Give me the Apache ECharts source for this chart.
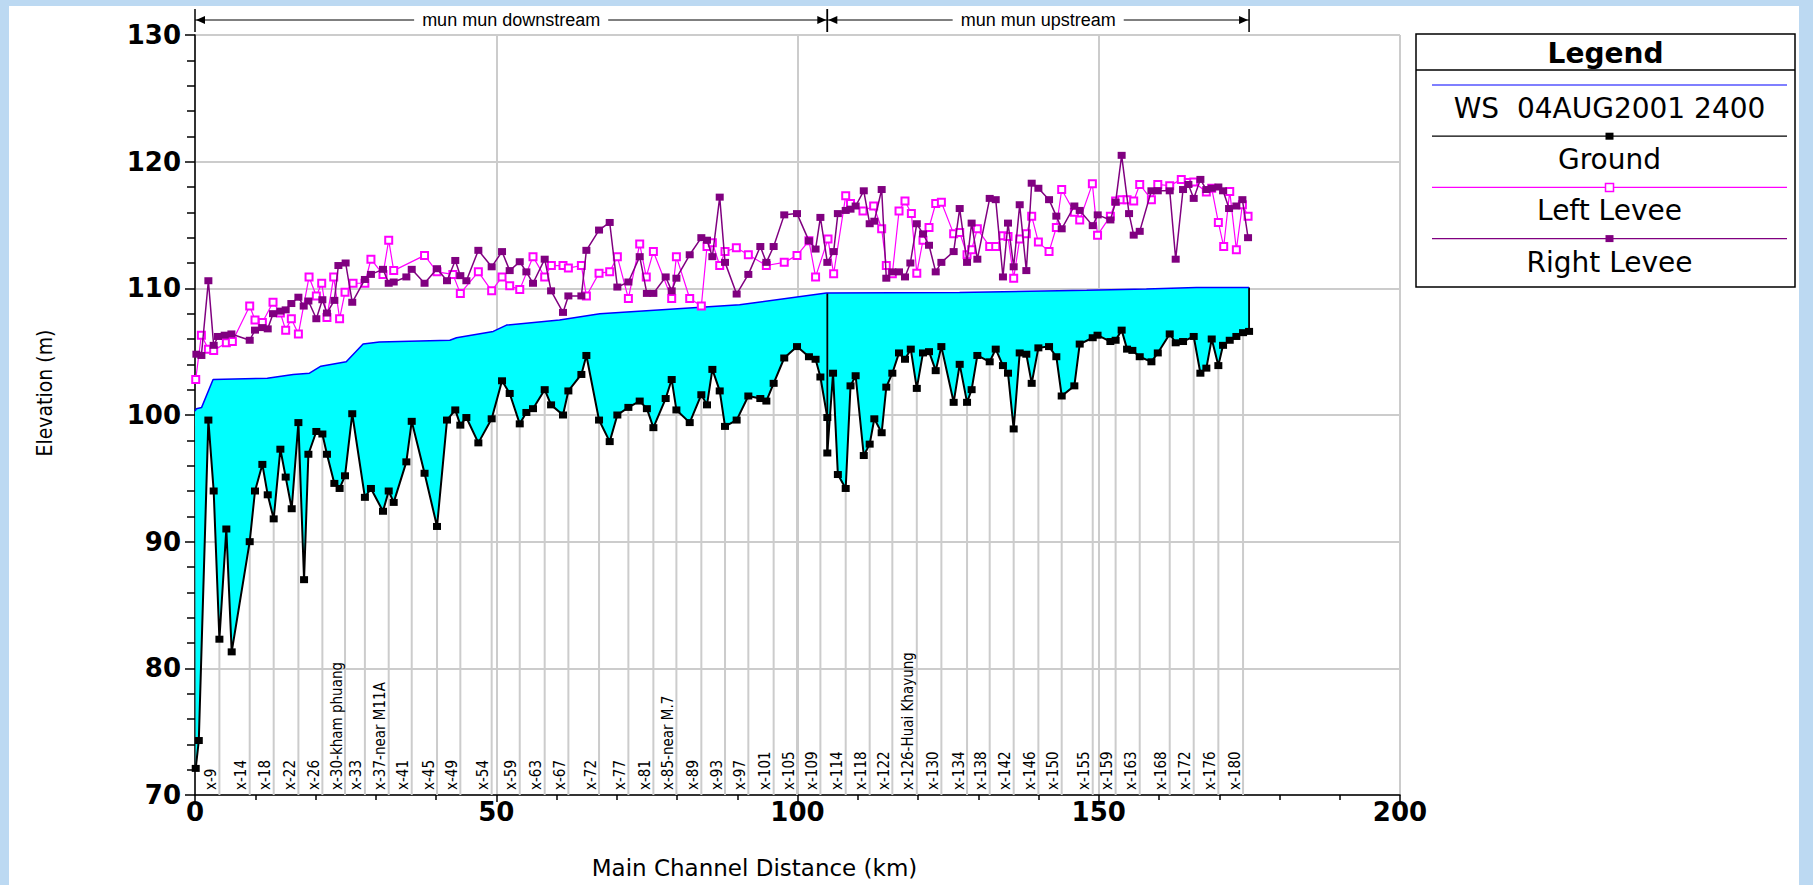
<!DOCTYPE html>
<html>
<head>
<meta charset="utf-8">
<title>Mun Mun profile</title>
<script src="https://cdn.jsdelivr.net/npm/echarts@6/dist/echarts.min.js"></script>
<style>
  html, body { margin:0; padding:0; width:1813px; height:885px; overflow:hidden; background:#bcd9f2; }
  #panel { position:absolute; left:9px; top:6px; width:1790px; height:879px; background:#ffffff; }
  #chart { position:absolute; left:0; top:0; width:1813px; height:885px; }
</style>
</head>
<body>
<div id="panel"></div>
<div id="chart"></div>
<script>
// ---------------- data ----------------
const wsName = 'WS  04AUG2001 2400';

const wsKm = [0,0.23,1.1,3.0,12.0,16.3,19.0,20.9,25.1,27.9,30.6,42.3,43.4,49.5,51.7,60.5,67.2,90.4,104.8,126.9,148,157.9,166.2,174.95];
const wsElev = [100.3,100.5,100.6,102.8,102.9,103.2,103.3,103.85,104.2,105.6,105.76,105.9,106.1,106.6,107.1,107.5,108.0,108.7,109.63,109.68,109.84,109.94,110.07,110.07];

const groundKm = [0.12,0.63,2.22,3.1,4.05,5.2,6.09,9.08,9.96,11.18,
  12.07,13.06,14.17,15.05,16.05,17.16,18.1,18.82,20.14,21.14,
  21.9,23.13,24.0,24.9,26.1,28.2,29.2,31.2,32.15,32.98,
  35.08,35.97,38.1,40.17,41.83,43.2,44.04,45.04,47.03,49.24,
  50.96,52.23,53.9,55.0,56.1,58.04,59.1,61.08,61.97,64.13,
  64.96,67.06,68.83,70.1,71.93,73.81,75.0,76.08,78.12,79.12,
  79.9,82.11,84.04,84.98,85.87,87.09,87.97,89.9,91.84,93.83,
  94.83,96.04,97.8,99.92,101.9,103.0,103.8,104.95,104.95,105.9,
  106.7,108.0,108.8,109.65,111.0,111.98,112.75,113.97,114.74,115.74,
  116.85,117.84,118.8,119.8,120.83,121.83,122.94,123.88,125.92,126.92,
  128.14,128.9,129.85,131.9,132.9,134.1,134.94,135.88,136.88,137.98,
  138.87,139.98,141.75,142.96,143.85,145.95,146.84,149.0,149.8,151.93,
  152.8,153.8,154.7,155.58,156.8,158.74,159.8,161.78,162.77,163.99,
  165.76,166.87,167.86,168.75,169.85,170.63,171.74,172.84,173.95,174.95];
const groundElev = [72.1,74.3,99.6,94.0,82.3,91.0,81.3,90.0,94.0,96.1,
  93.7,91.8,97.3,95.1,92.6,99.4,87.0,96.9,98.7,98.5,
  96.9,94.6,94.2,95.2,100.1,93.5,94.2,92.4,94.0,93.1,
  96.3,99.5,95.4,91.2,99.6,100.4,99.2,99.8,97.8,99.7,
  102.7,101.7,99.3,100.2,100.5,102.0,100.8,100.0,101.9,103.2,
  104.7,99.6,97.9,100.0,100.6,101.1,100.5,99.0,101.3,102.8,
  100.4,99.4,101.6,100.8,103.6,101.9,99.1,99.6,101.5,101.3,
  101.1,102.5,104.5,105.4,104.6,104.4,103.0,99.8,97.0,103.3,
  95.3,94.2,102.3,103.1,96.8,97.7,99.7,98.6,102.2,103.3,
  104.9,104.4,105.2,102.1,104.9,105.0,103.5,105.4,101.0,104.0,
  101.0,102.0,104.7,104.2,105.2,103.9,103.3,98.9,104.9,104.8,
  102.5,105.3,105.4,104.6,101.5,102.3,105.6,106.1,106.3,105.8,
  105.9,106.7,105.2,105.1,104.6,104.2,104.9,106.4,105.7,105.8,
  106.2,103.3,103.7,106.0,103.9,105.5,105.9,106.2,106.5,106.6];

const leftKm = [0.12,1.06,2.22,3.1,5.2,6.2,9.08,9.96,11.18,12.95,
  14.17,15.05,15.99,17.16,18.93,20.14,21.03,21.9,23.02,24.0,
  24.9,26.23,28.2,29.2,31.2,32.15,32.98,38.1,40.17,42.8,
  44.04,47.03,49.24,50.96,52.23,53.9,56.1,58.04,59.15,61.08,
  61.97,64.13,64.96,67.06,68.83,70.1,71.93,73.81,74.9,76.08,
  79.12,79.9,82.11,84.04,84.98,85.87,87.09,87.97,89.85,91.84,
  94.83,97.8,99.92,101.9,103.0,105.06,106.0,108.0,108.8,110.87,
  112.64,113.97,114.74,115.74,116.85,117.84,118.9,119.8,120.83,121.83,
  122.94,123.88,125.92,126.92,128.14,128.9,129.85,131.9,132.9,134.1,
  134.94,135.88,136.88,137.98,138.87,139.98,141.75,142.96,143.85,145.95,
  146.84,148.94,149.8,151.93,152.8,153.8,154.7,155.8,156.8,158.74,
  159.8,161.78,163.7,164.88,165.76,167.86,168.75,169.85,170.74,171.74,
  172.84,173.84,174.78];
const leftElev = [102.8,106.3,105.2,105.1,105.7,105.8,108.6,107.5,107.3,108.9,
  108.05,106.7,107.6,106.4,110.9,109.4,110.4,107.7,110.9,107.6,
  109.7,110.4,110.4,112.3,111.1,113.8,111.4,112.6,111.3,111.1,
  109.6,111.3,109.8,110.9,110.2,109.9,112.5,110.9,111.8,111.8,
  111.6,111.8,109.4,111.2,111.3,112.5,109.2,113.5,110.9,112.9,
  109.2,112.5,109.2,108.6,113.3,113.6,111.8,112.9,113.2,112.65,
  111.8,112.05,112.6,113.75,110.9,113.9,111.15,117.3,116.7,116.1,
  116.5,114.7,111.8,111.15,116.1,116.9,115.9,111.2,113.8,114.8,
  116.7,116.8,114.3,114.4,112.65,113.05,114.7,113.3,113.3,114.15,
  114.1,110.8,113.9,114.3,115.7,113.65,112.9,114.8,117.8,116.0,
  115.4,118.25,114.2,115.7,116.9,117.0,117.0,116.9,118.2,117.0,
  118.2,118.1,118.6,118.35,118.4,117.6,117.9,115.2,113.3,117.65,
  113.05,116.6,115.7];

const rightKm = [0.23,1.06,2.22,3.1,3.82,4.93,6.04,9.08,9.96,11.18,
  12.07,12.95,14.17,15.05,15.99,17.16,18.04,18.82,20.14,21.14,
  21.9,23.13,23.8,25.0,26.1,28.2,29.2,31.2,32.15,32.98,
  35.08,35.97,38.1,40.17,41.83,43.2,44.04,45.04,47.03,49.24,
  50.96,52.23,53.9,55.0,56.1,58.04,59.1,61.08,61.97,64.13,
  64.96,67.06,68.83,70.1,71.93,73.81,75.0,76.08,78.12,79.12,
  79.9,82.11,84.04,84.98,85.87,87.09,87.97,89.9,91.84,93.83,
  94.83,96.04,97.8,99.92,101.9,103.0,103.8,104.95,106.0,106.7,
  108.0,108.8,109.65,111.0,111.98,112.75,113.97,114.74,115.74,116.85,
  117.84,118.73,119.8,120.83,121.83,122.94,123.88,125.92,126.92,128.14,
  128.9,129.85,131.9,132.9,134.1,134.94,135.88,136.88,137.98,138.87,
  139.98,141.75,142.96,143.85,145.95,146.84,149.0,149.83,151.93,152.8,
  153.8,155.03,155.8,156.8,158.74,159.8,161.78,162.77,163.99,164.88,
  165.76,166.87,167.86,168.75,169.85,170.63,171.63,172.84,173.84,174.78];
const rightElev = [104.8,104.7,110.6,105.5,106.2,106.3,106.4,105.9,106.7,106.9,
  106.8,108.0,108.2,108.3,108.8,109.3,108.6,109.0,107.6,109.1,
  108.05,109.05,111.8,112.0,108.9,110.7,111.1,111.5,110.4,110.5,
  110.9,111.5,110.4,111.55,110.6,112.2,111.0,110.6,113.0,111.7,
  112.9,111.4,112.1,111.3,110.4,112.3,109.8,108.1,109.4,109.4,
  113.0,114.6,115.2,110.1,110.5,112.5,109.6,109.6,110.9,109.8,
  110.8,112.65,114.0,113.8,112.5,117.2,112.05,109.55,111.1,113.3,
  112.05,113.3,115.8,115.9,113.75,113.1,115.6,112.05,112.9,115.9,
  116.15,116.25,116.5,117.7,115.1,115.3,117.8,110.8,111.3,111.3,
  110.9,112.0,115.1,114.3,113.4,111.3,112.05,112.9,116.3,112.05,
  115.15,112.3,117.1,117.0,110.9,115.15,111.7,116.6,111.4,118.3,
  117.9,117.0,115.7,114.7,116.5,116.15,114.95,115.8,115.4,116.8,
  120.5,115.9,114.2,114.5,117.7,117.7,117.7,112.3,117.8,118.2,
  117.1,118.6,117.8,117.9,118.0,117.7,116.3,116.5,117.0,114.0];

const stationNames = ['x-9','x-14','x-18','x-22','x-26','x-30-kham phuang','x-33','x-37-near M11A','x-41','x-45',
  'x-49','x-54','x-59','x-63','x-67','x-72','x-77','x-81','x-85-near M.7','x-89',
  'x-93','x-97','x-101','x-105','x-109','x-114','x-118','x-122','x-126-Huai Khayung','x-130',
  'x-134','x-138','x-142','x-146','x-150','x-155','x-159','x-163','x-168','x-172',
  'x-176','x-180'];
const stationKm = [4.05,9.08,13.06,17.16,21.14,24.9,28.2,32.15,35.97,40.17,
  44.04,49.24,53.9,58.04,61.97,67.06,71.93,76.08,79.9,84.04,
  87.97,91.84,96.04,99.92,103.8,108.0,111.98,115.74,119.8,123.88,
  128.14,131.9,135.88,139.98,143.85,149.0,152.8,156.8,161.78,165.76,
  169.85,173.95];

const reachNames = ['mun mun downstream', 'mun mun upstream'];
const reachFromKm = [0, 104.95];
const reachToKm = [104.95, 174.95];

const xTicks = {min: 0, max: 200, step: 50};
const yTicks = {min: 70, max: 130, step: 10};

// ---------------- helpers ----------------
function pairs(xs, ys) { return xs.map((x, i) => [x, ys[i]]); }
function nearestElev(kms, elevs, km) {
  let best = 0, bd = Infinity;
  for (let i = 0; i < kms.length; i++) { const d = Math.abs(kms[i] - km); if (d < bd) { bd = d; best = i; } }
  return elevs[best];
}
function lowestGroundAt(km) {
  let bd = Infinity;
  for (let i = 0; i < groundKm.length; i++) bd = Math.min(bd, Math.abs(groundKm[i] - km));
  let low = Infinity;
  for (let i = 0; i < groundKm.length; i++) if (Math.abs(groundKm[i] - km) === bd) low = Math.min(low, groundElev[i]);
  return low;
}

const BIG = 'DejaVu Sans';
const SMALL = 'Liberation Sans';
const NARROW = '"Liberation Sans Narrow", "DejaVu Sans Condensed", "Liberation Sans", sans-serif';

// ---------------- legend (drawn box) ----------------
const legendEntries = [
  {name: wsName, color: '#0000ff', symbol: null},
  {name: 'Ground', color: '#000000', symbol: 'rect'},
  {name: 'Left Levee', color: '#ff00ff', symbol: 'emptyRect'},
  {name: 'Right Levee', color: '#800080', symbol: 'rect'}
];
const LB = {x: 1416, y: 34, w: 379, h: 253};
const graphics = [
  {type: 'rect', shape: {x: LB.x, y: LB.y, width: LB.w, height: LB.h}, style: {fill: '#ffffff', stroke: '#000000', lineWidth: 1.5}, z: 10},
  {type: 'line', shape: {x1: LB.x, y1: 70, x2: LB.x + LB.w, y2: 70}, style: {stroke: '#000000', lineWidth: 1.5}, z: 11},
  {type: 'text', x: LB.x + LB.w / 2, y: 53, z: 11,
   style: {text: 'Legend', font: 'bold 28px "' + BIG + '"', fill: '#000', align: 'center', verticalAlign: 'middle', textAlign: 'center', textVerticalAlign: 'middle'}}
];
legendEntries.forEach((e, i) => {
  const ly = 85 + i * 51.2, ty = ly + 23.5, x1 = 1432, x2 = 1787, cx = (x1 + x2) / 2;
  graphics.push({type: 'line', z: 11, shape: {x1: x1, y1: ly, x2: x2, y2: ly}, style: {stroke: e.color, lineWidth: 1.2}});
  if (e.symbol === 'rect') graphics.push({type: 'rect', z: 12, shape: {x: cx - 4, y: ly - 3.5, width: 8, height: 7}, style: {fill: e.color}});
  if (e.symbol === 'emptyRect') graphics.push({type: 'rect', z: 12, shape: {x: cx - 4, y: ly - 4, width: 8, height: 8}, style: {fill: '#fff', stroke: e.color, lineWidth: 1.5}});
  graphics.push({type: 'text', z: 11, x: cx, y: ty,
    style: {text: e.name, font: '28px "' + BIG + '"', fill: '#000', align: 'center', verticalAlign: 'middle', textAlign: 'center', textVerticalAlign: 'middle'}});
});

// ---------------- chart ----------------
const chart = echarts.init(document.getElementById('chart'), null, {renderer: 'svg'});

const option = {
  animation: false,
  backgroundColor: 'transparent',
  grid: {left: 195, right: 413, top: 35, bottom: 90, containLabel: false},
  xAxis: {
    type: 'value', min: xTicks.min, max: xTicks.max, interval: xTicks.step,
    name: 'Main Channel Distance (km)', nameLocation: 'middle', nameGap: 61,
    nameTextStyle: {fontFamily: BIG, fontSize: 23, color: '#000', padding: [0, 86, 0, 0]},
    axisLine: {show: true, onZero: false, lineStyle: {color: '#000', width: 1.5}},
    axisTick: {show: true, length: 7, lineStyle: {color: '#000', width: 1.5}},
    minorTick: {show: true, splitNumber: 5, length: 5, lineStyle: {color: '#000', width: 1.5}},
    axisLabel: {fontFamily: BIG, fontWeight: 'bold', fontSize: 26, color: '#000', margin: 4},
    splitLine: {show: true, lineStyle: {color: '#cccccc', width: 2}}
  },
  yAxis: {
    type: 'value', min: yTicks.min, max: yTicks.max, interval: yTicks.step,
    name: 'Elevation (m)', nameLocation: 'middle', nameGap: 140,
    nameTextStyle: {fontFamily: NARROW, fontSize: 21, color: '#000', padding: [0, 0, 0, 44]},
    axisLine: {show: true, onZero: false, lineStyle: {color: '#000', width: 1.5}},
    axisTick: {show: true, length: 10, lineStyle: {color: '#000', width: 1.5}},
    minorTick: {show: true, splitNumber: 5, length: 8, lineStyle: {color: '#000', width: 1.5}},
    axisLabel: {fontFamily: BIG, fontWeight: 'bold', fontSize: 26, color: '#000', margin: 14},
    splitLine: {show: true, lineStyle: {color: '#cccccc', width: 2}}
  },
  graphic: graphics,
  series: [
    {
      type: 'custom', name: 'Cross sections', silent: true, clip: false, z: 1,
      data: stationKm.map((k, i) => [k, nearestElev(groundKm, groundElev, k), i]),
      renderItem: (params, api) => {
        const k = api.value(0), g = api.value(1), i = api.value(2);
        const base = api.coord([k, yTicks.min]);
        const top = api.coord([k, g]);
        return {type: 'group', children: [
          {type: 'line', shape: {x1: base[0], y1: base[1], x2: top[0], y2: top[1]}, style: {stroke: '#cccccc', lineWidth: 2}},
          {type: 'text', x: base[0] - 1, y: base[1] - 5, rotation: Math.PI / 2,
           style: {text: stationNames[i], font: '15px ' + NARROW, fill: '#000', align: 'left', verticalAlign: 'bottom', textAlign: 'left', textVerticalAlign: 'bottom'}}
        ]};
      }
    },
    {
      type: 'custom', name: 'Water', silent: true, clip: true, z: 2,
      data: [[0, yTicks.min]],
      renderItem: (params, api) => {
        const pts = [];
        wsKm.forEach((k, i) => pts.push(api.coord([k, wsElev[i]])));
        for (let i = groundKm.length - 1; i >= 0; i--) pts.push(api.coord([groundKm[i], groundElev[i]]));
        const children = [{type: 'polygon', shape: {points: pts}, style: {fill: '#00ffff', stroke: null}}];
        reachToKm.forEach(k => {
          const t = api.coord([k, nearestElev(wsKm, wsElev, k)]);
          const b = api.coord([k, lowestGroundAt(k)]);
          children.push({type: 'line', shape: {x1: t[0], y1: t[1], x2: b[0], y2: b[1]}, style: {stroke: '#000', lineWidth: 1.8}});
        });
        return {type: 'group', children};
      }
    },
    {
      type: 'line', name: wsName, data: pairs(wsKm, wsElev), z: 3,
      showSymbol: false, symbol: 'none', lineStyle: {color: '#0000ff', width: 1.5}, itemStyle: {color: '#0000ff'}
    },
    {
      type: 'line', name: 'Ground', data: pairs(groundKm, groundElev), z: 4,
      symbol: 'rect', symbolSize: [8, 7], lineStyle: {color: '#000', width: 2}, itemStyle: {color: '#000'}
    },
    {
      type: 'line', name: 'Left Levee', data: pairs(leftKm, leftElev), z: 5,
      symbol: 'emptyRect', symbolSize: [7, 7], lineStyle: {color: '#ff00ff', width: 1.2},
      itemStyle: {color: '#ff00ff', borderColor: '#ff00ff', borderWidth: 1.5}
    },
    {
      type: 'line', name: 'Right Levee', data: pairs(rightKm, rightElev), z: 6,
      symbol: 'rect', symbolSize: [8, 7], lineStyle: {color: '#800080', width: 1.5}, itemStyle: {color: '#800080'}
    },
    {
      type: 'custom', name: 'Reaches', silent: true, clip: false, z: 7,
      data: reachNames.map((n, i) => [reachFromKm[i], reachToKm[i], i]),
      renderItem: (params, api) => {
        const a = api.value(0), b = api.value(1), i = api.value(2);
        const pa = api.coord([a, yTicks.max]), pb = api.coord([b, yTicks.max]);
        const y = pa[1] - 15, xa = pa[0], xb = pb[0], ah = 9, aw = 4;
        return {type: 'group', children: [
          {type: 'line', shape: {x1: xa, y1: y, x2: xb, y2: y}, style: {stroke: '#000', lineWidth: 1}},
          {type: 'polygon', shape: {points: [[xa + 1, y], [xa + 1 + ah, y - aw], [xa + 1 + ah, y + aw]]}, style: {fill: '#000'}},
          {type: 'polygon', shape: {points: [[xb - 1, y], [xb - 1 - ah, y - aw], [xb - 1 - ah, y + aw]]}, style: {fill: '#000'}},
          {type: 'line', shape: {x1: xa, y1: pa[1] - 26, x2: xa, y2: pa[1] - 3}, style: {stroke: '#000', lineWidth: 1.5}},
          {type: 'line', shape: {x1: xb, y1: pb[1] - 26, x2: xb, y2: pb[1] - 3}, style: {stroke: '#000', lineWidth: 1.5}},
          {type: 'text', x: (xa + xb) / 2, y: y,
           style: {text: reachNames[i], font: '18px "' + SMALL + '"', fill: '#000', backgroundColor: '#fff', padding: [0, 8],
                   align: 'center', verticalAlign: 'middle', textAlign: 'center', textVerticalAlign: 'middle'}}
        ]};
      }
    }
  ]
};
chart.setOption(option);
</script>
</body>
</html>
